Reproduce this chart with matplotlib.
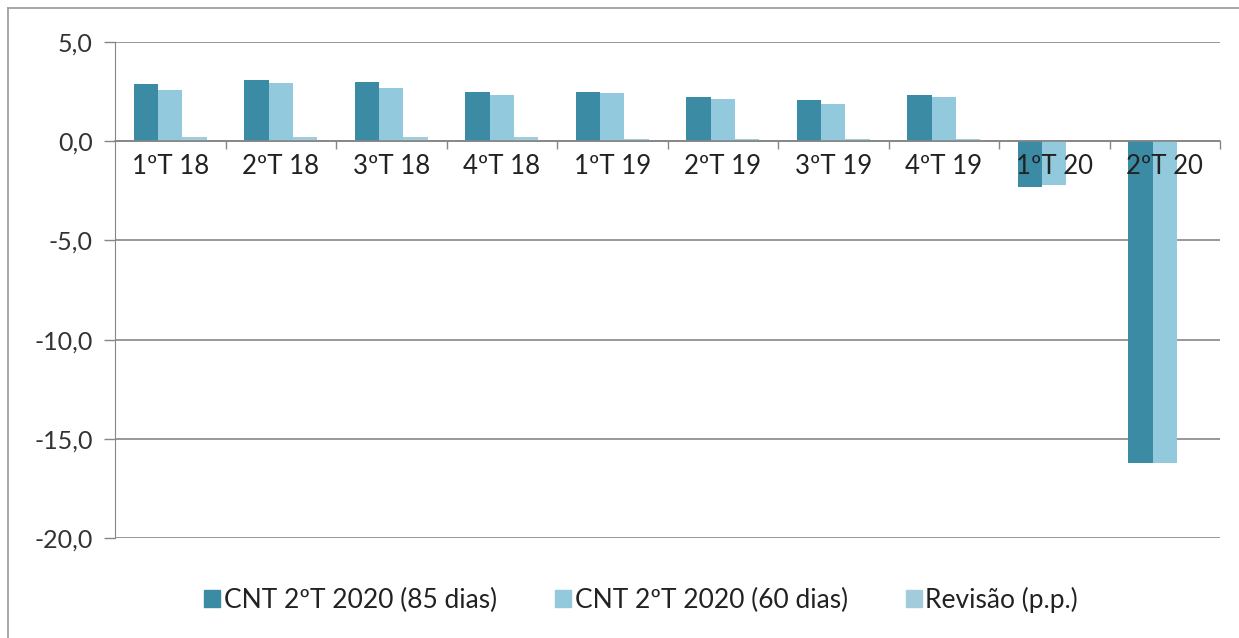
import matplotlib
matplotlib.use("Agg")
import matplotlib.pyplot as plt
import numpy as np
from matplotlib.lines import Line2D

categories = ["1ºT 18", "2ºT 18", "3ºT 18", "4ºT 18", "1ºT 19", "2ºT 19", "3ºT 19", "4ºT 19", "1ºT 20", "2ºT 20"]
cnt_85 = [2.9, 3.1, 3.0, 2.5, 2.5, 2.25, 2.1, 2.35, -2.3, -16.2]
cnt_60 = [2.6, 2.95, 2.7, 2.35, 2.45, 2.15, 1.9, 2.25, -2.2, -16.2]
revisao = [0.2, 0.2, 0.2, 0.2, 0.1, 0.1, 0.1, 0.1, 0.0, 0.0]
series_names = ["CNT 2ºT 2020 (85 dias)", "CNT 2ºT 2020 (60 dias)", "Revisão (p.p.)"]
yticks = [5, 0, -5, -10, -15, -20]

colors = ["#3B8BA5", "#92C9DC", "#A2CCDC"]
font = ["Lato", "DejaVu Sans"]
plt.rcParams['font.family'] = font

fig = plt.figure(figsize=(12.39, 6.38), dpi=100)
W, H = 1239, 638
ax = fig.add_axes([115 / W, 1 - 538 / H, (1220 - 115) / W, (538 - 42) / H])

x = np.arange(len(categories))
w = 0.22
for i, (vals, c) in enumerate(zip([cnt_85, cnt_60, revisao], colors)):
    ax.bar(x + (i - 1) * w, vals, width=w, color=c, zorder=3)

ax.set_xlim(-0.5, len(categories) - 0.5)
ax.set_ylim(-20, 5)
ax.set_yticks(yticks)
ax.set_yticklabels([f"{v:.1f}".replace(".", ",") for v in yticks], fontsize=18, color="#333333")
ax.tick_params(axis='y', length=8, color="#868686", width=1, pad=8)
ax.yaxis.grid(True, color="#868686", linewidth=1.2, zorder=0)
ax.set_axisbelow(True)

for s in ["top", "right"]:
    ax.spines[s].set_visible(False)
ax.spines["left"].set_color("#868686")
ax.spines["bottom"].set_position(("data", 0))
ax.spines["bottom"].set_color("#868686")
ax.spines["bottom"].set_linewidth(1.2)
ax.spines["bottom"].set_zorder(4)

ax.set_xticks(x)
ax.set_xticklabels(categories, fontsize=18.5, color="#222222")
ax.tick_params(axis='x', which='major', length=0, pad=9)
ax.set_xticks(np.arange(0.5, len(categories) - 0.4, 1), minor=True)
ax.tick_params(axis='x', which='minor', length=6, color="#868686", width=1)
ax.xaxis.set_zorder(6)

handles = [plt.Rectangle((0, 0), 1, 1, color=c) for c in colors]
fig.legend(handles, series_names, loc="center", bbox_to_anchor=(641 / W, 1 - 600 / H),
           ncol=3, frameon=False, fontsize=19, handlelength=0.6, handleheight=0.6,
           handletextpad=0.15, columnspacing=2.2, labelcolor="#222222")

fig.add_artist(Line2D([8 / W, 1], [1 - 8 / H, 1 - 8 / H], color="#9a9a9a", linewidth=1.2, transform=fig.transFigure))
fig.add_artist(Line2D([8 / W, 8 / W], [0, 1 - 8 / H], color="#9a9a9a", linewidth=1.2, transform=fig.transFigure))

fig.savefig("out.png", dpi=100)
